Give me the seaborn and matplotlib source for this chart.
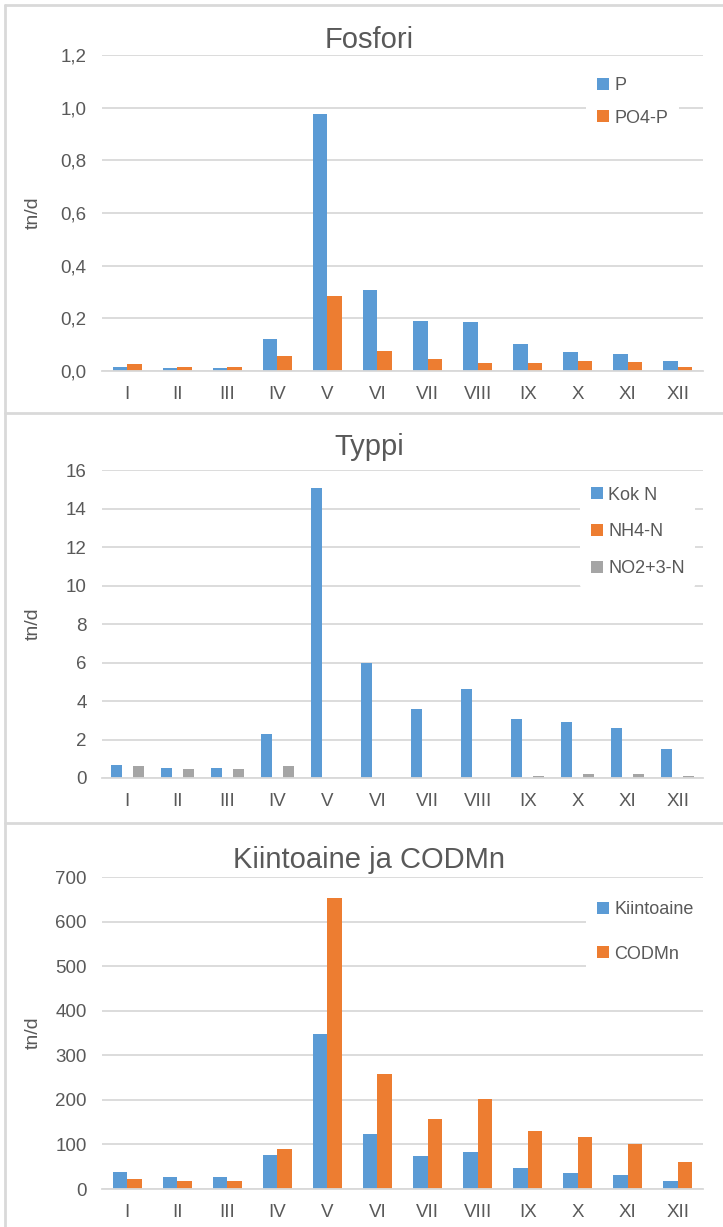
import matplotlib
matplotlib.use("Agg")
import matplotlib.pyplot as plt
from matplotlib.lines import Line2D
import seaborn as sns
import pandas as pd
from matplotlib.ticker import FuncFormatter

months = ["I", "II", "III", "IV", "V", "VI", "VII", "VIII", "IX", "X", "XI", "XII"]

# Fosfori
p_tot = [0.016, 0.013, 0.013, 0.123, 0.977, 0.308, 0.188, 0.185, 0.103, 0.072, 0.065, 0.037]
po4_p = [0.025, 0.017, 0.017, 0.056, 0.286, 0.076, 0.045, 0.029, 0.029, 0.037, 0.033, 0.017]

# Typpi
kok_n = [0.67, 0.52, 0.52, 2.27, 15.08, 5.95, 3.6, 4.62, 3.08, 2.9, 2.6, 1.52]
nh4_n = [0, 0, 0, 0, 0, 0, 0, 0, 0, 0, 0, 0]
no23_n = [0.62, 0.47, 0.47, 0.62, 0, 0, 0, 0, 0.09, 0.19, 0.19, 0.09]

# Kiintoaine ja CODMn
kiintoaine = [38, 28, 28, 77, 348, 123, 75, 84, 47, 36, 31, 17]
codmn = [22, 17, 17, 90, 654, 259, 157, 201, 130, 116, 102, 61]

sns.set_theme(style="white")
plt.rcParams["font.family"] = ["Liberation Sans", "DejaVu Sans"]

BLUE, ORANGE, GRAY = "#5B9BD5", "#ED7D31", "#A5A5A5"
TXT = "#595959"
GRID = "#D9D9D9"

W, H = 723, 1227
fig = plt.figure(figsize=(W / 100, H / 100), dpi=100)
LEFT, RIGHT = 102, 703


def ax_rect(top, bottom):
    return [LEFT / W, 1 - bottom / H, (RIGHT - LEFT) / W, (bottom - top) / H]


def panel(top, bottom, title, series, colors, ylim, yticks, fmt, width,
          leg_x, leg_cy, leg_spacing, title_y):
    ax = fig.add_axes(ax_rect(top, bottom))
    frames = []
    for name, vals in series:
        frames.append(pd.DataFrame({"month": months, "value": vals, "series": name}))
    df = pd.concat(frames, ignore_index=True)
    sns.barplot(data=df, x="month", y="value", hue="series", palette=colors,
                width=width, gap=0, ax=ax, saturation=1, legend=True,
                edgecolor="none", linewidth=0)
    ax.set_ylim(*ylim)
    ax.set_yticks(yticks)
    ax.yaxis.set_major_formatter(FuncFormatter(fmt))
    ax.set_xlim(-0.5, 11.5)
    ax.grid(axis="y", color=GRID, linewidth=1.3)
    ax.set_axisbelow(True)
    for s in ["top", "right", "left"]:
        ax.spines[s].set_visible(False)
    ax.spines["bottom"].set_color(GRID)
    ax.spines["bottom"].set_linewidth(1.3)
    ax.tick_params(axis="both", length=0, colors=TXT, labelsize=13.5)
    ax.tick_params(axis="y", pad=11)
    ax.tick_params(axis="x", pad=11)
    ax.set_xlabel("")
    ax.set_ylabel("tn/d", color=TXT, fontsize=14)
    ax.yaxis.set_label_coords(-(LEFT - 42) / (RIGHT - LEFT), 0.5)
    fig.text(369 / W, 1 - title_y / H, title, color=TXT, fontsize=21,
             ha="center", va="center")
    leg = ax.legend(loc="center left",
                    bbox_to_anchor=(leg_x / W, 1 - leg_cy / H),
                    bbox_transform=fig.transFigure, frameon=True,
                    fontsize=13, handlelength=0.65, handleheight=0.65,
                    handletextpad=0.3, labelspacing=leg_spacing, borderpad=0.6)
    leg.get_frame().set_facecolor("white")
    leg.get_frame().set_edgecolor("none")
    leg.get_frame().set_alpha(1)
    for t in leg.get_texts():
        t.set_color(TXT)
    return ax


panel(55, 371, "Fosfori",
      [("P", p_tot), ("PO4-P", po4_p)], [BLUE, ORANGE],
      (0, 1.2), [0, 0.2, 0.4, 0.6, 0.8, 1.0, 1.2],
      lambda v, p: f"{v:.1f}".replace(".", ","), 0.58, 577, 102, 0.85, 40)

panel(470, 778, "Typpi",
      [("Kok N", kok_n), ("NH4-N", nh4_n), ("NO2+3-N", no23_n)], [BLUE, ORANGE, GRAY],
      (0, 16), list(range(0, 17, 2)),
      lambda v, p: f"{int(v)}", 0.66, 571, 532, 1.1, 447)

panel(877, 1189, "Kiintoaine ja CODMn",
      [("Kiintoaine", kiintoaine), ("CODMn", codmn)], [BLUE, ORANGE],
      (0, 700), list(range(0, 701, 100)),
      lambda v, p: f"{int(v)}", 0.58, 577, 932, 1.5, 860)


# panel frames
def hline(y):
    fig.add_artist(Line2D([5 / W, 1], [1 - y / H, 1 - y / H], color=GRID, linewidth=2,
                          transform=fig.transFigure))


for y in [5, 413, 823]:
    hline(y)
fig.add_artist(Line2D([5 / W, 5 / W], [0, 1 - 5 / H], color=GRID, linewidth=2,
                      transform=fig.transFigure))

fig.savefig("out.png", dpi=100, facecolor="white")
